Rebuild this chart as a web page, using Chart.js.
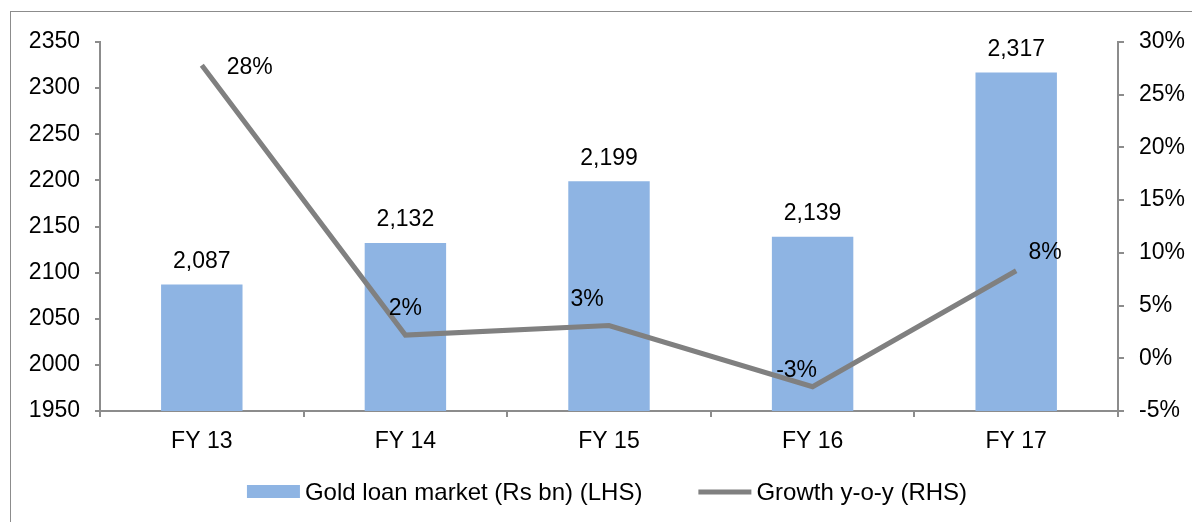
<!DOCTYPE html>
<html>
<head>
<meta charset="utf-8">
<script src="https://cdn.jsdelivr.net/npm/chart.js@4.4.1/dist/chart.umd.min.js"></script>
<style>
  html, body { margin: 0; padding: 0; background: #fff; overflow: hidden; }
  #wrap { position: relative; width: 1192px; height: 522px; }
  #frame { position: absolute; left: 10px; top: 11px; width: 1300px; height: 600px; border: 1px solid #8c8c8c; }
  #chart { position: absolute; left: 0; top: 0; }
</style>
</head>
<body>
<div id="wrap">
  <div id="frame"></div>
  <canvas id="chart" width="1192" height="522"></canvas>
</div>
<script>
const categories = ['FY 13', 'FY 14', 'FY 15', 'FY 16', 'FY 17']
const goldLoan = [2087, 2132, 2199, 2139, 2317]          // Rs bn
const growth = [27.8, 2.2, 3.1, -2.7, 8.3]               // % y-o-y
const leftTicks = [1950, 2000, 2050, 2100, 2150, 2200, 2250, 2300, 2350]
const rightTicks = [-5, 0, 5, 10, 15, 20, 25, 30]

// where each growth label sits relative to its point (style only)
const growthLabelOffset = [[48, 2], [0, -26], [-22, -26], [-16, -16], [29, -18]]

const FONT = 'Arial, "Liberation Sans", sans-serif'
const AXIS = '#8c8c8c'

const labelPlugin = {
  id: 'valueLabels',
  afterDatasetsDraw(chart) {
    const ctx = chart.ctx
    ctx.save()
    ctx.font = '23px ' + FONT
    ctx.fillStyle = '#000'
    ctx.textAlign = 'center'
    ctx.textBaseline = 'middle'
    chart.getDatasetMeta(0).data.forEach((bar, i) => {
      ctx.fillText(goldLoan[i].toLocaleString('en-US'), bar.x, bar.y - 23)
    })
    chart.getDatasetMeta(1).data.forEach((pt, i) => {
      const [dx, dy] = growthLabelOffset[i]
      ctx.fillText(Math.round(growth[i]) + '%', pt.x + dx, pt.y + dy)
    })
    ctx.restore()
  }
}

// legend drawn under the axis, Excel style (wide swatch, tight text gap)
const legendPlugin = {
  id: 'bottomLegend',
  afterDraw(chart) {
    const ctx = chart.ctx
    const ds = chart.data.datasets
    const sw = 53, gapText = 5, gapItem = 56
    ctx.save()
    ctx.font = '24px ' + FONT
    ctx.textBaseline = 'middle'
    ctx.fillStyle = '#000'
    const widths = ds.map(d => sw + gapText + ctx.measureText(d.label).width)
    const total = widths.reduce((a, b) => a + b, 0) + gapItem * (ds.length - 1)
    let x = 607 - total / 2
    const y = 492
    ds.forEach((d, i) => {
      if (d.type === 'bar') {
        ctx.fillStyle = d.backgroundColor
        ctx.fillRect(x, y - 7, sw, 13)
      } else {
        ctx.strokeStyle = d.borderColor
        ctx.lineWidth = d.borderWidth
        ctx.beginPath()
        ctx.moveTo(x, y)
        ctx.lineTo(x + sw, y)
        ctx.stroke()
      }
      ctx.fillStyle = '#000'
      ctx.fillText(d.label, x + sw + gapText, y + 1)
      x += widths[i] + gapItem
    })
    ctx.restore()
  }
}

new Chart(document.getElementById('chart'), {
  data: {
    labels: categories,
    datasets: [
      {
        type: 'bar',
        label: 'Gold loan market (Rs bn) (LHS)',
        data: goldLoan,
        backgroundColor: '#8eb4e3',
        borderWidth: 0,
        barPercentage: 0.4,
        categoryPercentage: 1,
        yAxisID: 'y',
        order: 1,
      },
      {
        type: 'line',
        label: 'Growth y-o-y (RHS)',
        data: growth,
        borderColor: '#808080',
        backgroundColor: '#808080',
        borderWidth: 5,
        pointRadius: 0,
        tension: 0,
        yAxisID: 'y1',
        order: 0,
      },
    ],
  },
  options: {
    responsive: false,
    animation: false,
    layout: { padding: { top: 42, left: 0, right: 0, bottom: 50 } },
    plugins: {
      tooltip: { enabled: false },
      legend: { display: false },
    },
    scales: {
      x: {
        grid: { display: true, offset: true, drawOnChartArea: false, tickLength: 6, color: AXIS, lineWidth: 2 },
        border: { color: AXIS, width: 2 },
        ticks: { color: '#000', padding: 11, font: { family: FONT, size: 23 } },
        afterFit: s => { s.height = 61 },
      },
      y: {
        position: 'left',
        min: 1950, max: 2350,
        afterBuildTicks: s => { s.ticks = leftTicks.map(v => ({ value: v })) },
        grid: { display: true, drawOnChartArea: false, tickLength: 5, color: AXIS, lineWidth: 2 },
        border: { color: AXIS, width: 2 },
        ticks: { color: '#000', padding: 15, font: { family: FONT, size: 23 }, callback: v => String(v) },
        afterFit: s => { s.width = 100 },
      },
      y1: {
        position: 'right',
        min: -5, max: 30,
        afterBuildTicks: s => { s.ticks = rightTicks.map(v => ({ value: v })) },
        grid: { display: true, drawOnChartArea: false, tickLength: 6, color: AXIS, lineWidth: 2 },
        border: { color: AXIS, width: 2 },
        ticks: { color: '#000', padding: 15, font: { family: FONT, size: 23 }, callback: v => v + '%' },
        afterFit: s => { s.width = 74 },
      },
    },
  },
  plugins: [labelPlugin, legendPlugin],
})
</script>
</body>
</html>
